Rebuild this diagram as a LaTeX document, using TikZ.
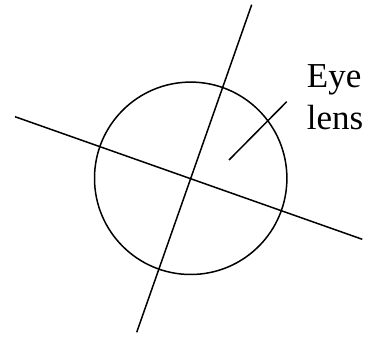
\documentclass[tikz,border=0pt]{standalone}
\usepackage{fontspec}
\setmainfont{Liberation Serif}
\begin{document}
\begin{tikzpicture}[x=1pt,y=1pt,line width=1.5pt,
  lbl/.style={inner sep=0pt,align=left,font=\fontsize{35}{42}\selectfont}]
\useasboundingbox (0,0) rectangle (375,337);
\coordinate (c) at (190.7,158.7);
\draw (c) circle (96.2);
\coordinate (a1) at (251.7,332.3);
\coordinate (a2) at (136.7,4.7);
\coordinate (b1) at (15,220.3);
\coordinate (b2) at (362.3,97.7);
\coordinate (l1) at (286.7,235.3);
\coordinate (l2) at (229,177);
\draw (a1) -- (a2);
\draw (b1) -- (b2);
\draw (l1) -- (l2);
\node[lbl,anchor=base west] (t) at (306.2,207) {Eye\\lens};
\end{tikzpicture}
\end{document}
